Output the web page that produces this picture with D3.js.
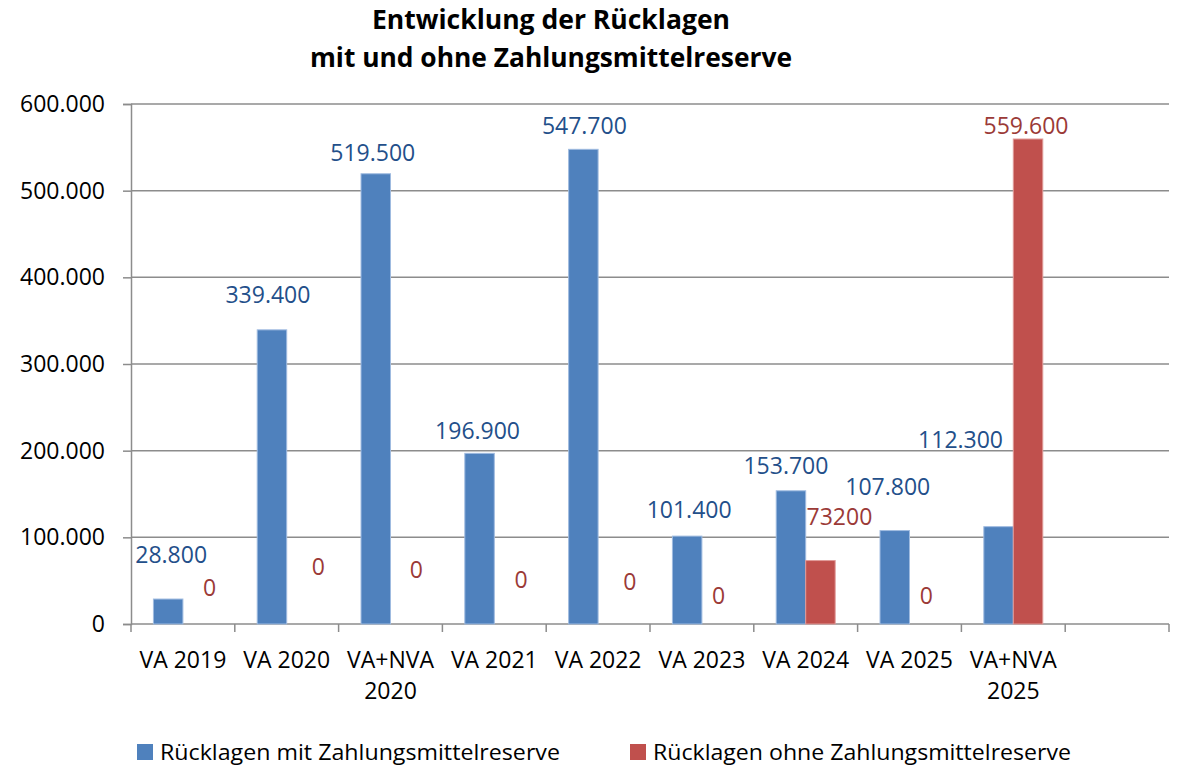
<!DOCTYPE html>
<html>
<head>
<meta charset="utf-8">
<script src="https://cdn.jsdelivr.net/npm/d3@7"></script>
<style>
  body { margin: 0; background: #fff; }
  svg text { font-family: "Open Sans", sans-serif; }
</style>
</head>
<body>
<svg id="chart"></svg>
<script>
// values
const categories = ["VA 2019", "VA 2020", "VA+NVA 2020", "VA 2021", "VA 2022",
                    "VA 2023", "VA 2024", "VA 2025", "VA+NVA 2025", ""];
const mitReserve = [28800, 339400, 519500, 196900, 547700, 101400, 153700, 107800, 112300, null];
const ohneReserve = [0, 0, 0, 0, 0, 0, 73200, 0, 559600, null];
const ohneLabels = ["0", "0", "0", "0", "0", "0", "73200", "0", "559.600", null];
const seriesNames = ["Rücklagen mit Zahlungsmittelreserve", "Rücklagen ohne Zahlungsmittelreserve"];
const yTicks = [0, 100000, 200000, 300000, 400000, 500000, 600000];

// labels in the original were dragged around by hand, pixel nudges [dx, dy]
const mitNudge = [[3, -30], [-4, -21], [-3, -7], [-2, -8], [1, -9], [2, -12], [-5, -11], [-7, -30], [-38, -73]];
const ohneNudge = [[12, -22], [17, -43], [11, -40], [12, -30], [17, -28], [2, -14], [19, -30], [2, -14], [-2, 1]];

const width = 1177, height = 768;
const blue = "#4F81BD", red = "#C0504D";
const blueText = "#234F8A", redText = "#9B3A37";
const fontSize = 23;

const de = d3.formatLocale({decimal: ",", thousands: ".", grouping: [3], currency: ["", "€"]});
const fmt = de.format(",.0f");

const svg = d3.select("#chart").attr("width", width).attr("height", height);

const x0 = d3.scaleBand().domain(d3.range(categories.length)).range([131, 1169]).padding(0);
const bw = x0.bandwidth();
const x1 = d3.scaleBand().domain([0, 1]).range([bw * 0.216, bw * 0.784]).padding(0);
const y = d3.scaleLinear().domain([0, 600000]).range([624, 104]);

// title
svg.append("text").attr("x", 551).attr("y", 29).attr("text-anchor", "middle")
  .attr("font-size", 26).attr("font-weight", "bold")
  .attr("textLength", 358).attr("lengthAdjust", "spacingAndGlyphs")
  .text("Entwicklung der Rücklagen");
svg.append("text").attr("x", 551).attr("y", 67).attr("text-anchor", "middle")
  .attr("font-size", 26).attr("font-weight", "bold")
  .attr("textLength", 482).attr("lengthAdjust", "spacingAndGlyphs")
  .text("mit und ohne Zahlungsmittelreserve");

// gridlines
svg.append("g").selectAll("line").data(yTicks.filter(d => d > 0)).join("line")
  .attr("x1", 131).attr("x2", 1169)
  .attr("y1", d => y(d)).attr("y2", d => y(d))
  .attr("stroke", "#8c8c8c").attr("stroke-width", 1.5);

// y axis
const yAxis = svg.append("g").attr("transform", "translate(131,0)")
  .call(d3.axisLeft(y).tickValues(yTicks).tickFormat(fmt).tickSize(8).tickPadding(18));
yAxis.select(".domain").attr("stroke", "#8c8c8c").attr("stroke-width", 1.5);
yAxis.selectAll(".tick line").attr("stroke", "#8c8c8c").attr("stroke-width", 1.5);
yAxis.selectAll("text").attr("font-size", fontSize).attr("fill", "#000")
  .attr("font-family", "Open Sans, sans-serif");

// x axis
const xAxis = svg.append("g").attr("transform", "translate(0,624)");
xAxis.append("line").attr("x1", 131).attr("x2", 1169).attr("y1", 0).attr("y2", 0)
  .attr("stroke", "#8c8c8c").attr("stroke-width", 1.5);
xAxis.selectAll("line.tick").data(d3.range(categories.length + 1)).join("line")
  .attr("class", "tick")
  .attr("x1", i => 131 + i * bw).attr("x2", i => 131 + i * bw)
  .attr("y1", 0).attr("y2", 8)
  .attr("stroke", "#8c8c8c").attr("stroke-width", 1.5);

xAxis.selectAll("text").data(categories).join("text")
  .attr("text-anchor", "middle")
  .attr("font-size", fontSize)
  .attr("fill", "#000")
  .each(function(d, i) {
    const parts = d.startsWith("VA+NVA") ? ["VA+NVA", d.slice(7)] : [d];
    const t = d3.select(this);
    parts.forEach((p, k) => {
      t.append("tspan").attr("x", x0(i) + bw / 2).attr("y", 44 + k * 31).text(p);
    });
  });

// bars
const groups = svg.append("g").selectAll("g").data(categories).join("g")
  .attr("transform", (d, i) => `translate(${x0(i)},0)`);

groups.filter((d, i) => mitReserve[i] != null && mitReserve[i] > 0)
  .append("rect")
  .attr("x", x1(0)).attr("width", x1.bandwidth())
  .attr("y", d => y(mitReserve[categories.indexOf(d)]))
  .attr("height", d => y(0) - y(mitReserve[categories.indexOf(d)]))
  .attr("fill", blue).attr("stroke", "#9fbbe0").attr("stroke-width", 1);

groups.filter(d => ohneReserve[categories.indexOf(d)] > 0)
  .append("rect")
  .attr("x", x1(1)).attr("width", x1.bandwidth())
  .attr("y", d => y(ohneReserve[categories.indexOf(d)]))
  .attr("height", d => y(0) - y(ohneReserve[categories.indexOf(d)]))
  .attr("fill", red).attr("stroke", "#e09a98").attr("stroke-width", 1);

// data labels
const labels = svg.append("g").attr("font-size", fontSize).attr("text-anchor", "middle");
mitReserve.forEach((v, i) => {
  if (v == null) return;
  labels.append("text")
    .attr("x", x0(i) + x1(0) + x1.bandwidth() / 2 + mitNudge[i][0])
    .attr("y", y(v) - 14 + mitNudge[i][1])
    .attr("dy", "0.35em")
    .attr("fill", blueText)
    .text(fmt(v));
});
ohneReserve.forEach((v, i) => {
  if (v == null) return;
  labels.append("text")
    .attr("x", x0(i) + x1(1) + x1.bandwidth() / 2 + ohneNudge[i][0])
    .attr("y", y(v) - 14 + ohneNudge[i][1])
    .attr("dy", "0.35em")
    .attr("fill", redText)
    .text(ohneLabels[i]);
});

// legend
const legend = svg.append("g");
const legendX = [137, 630];
seriesNames.forEach((name, i) => {
  legend.append("rect").attr("x", legendX[i]).attr("y", 744).attr("width", 16).attr("height", 16)
    .attr("fill", i === 0 ? blue : red);
  legend.append("text").attr("x", legendX[i] + 23).attr("y", 760)
    .attr("font-size", 21)
    .attr("textLength", i === 0 ? 400 : 418).attr("lengthAdjust", "spacingAndGlyphs")
    .text(name);
});
</script>
</body>
</html>
